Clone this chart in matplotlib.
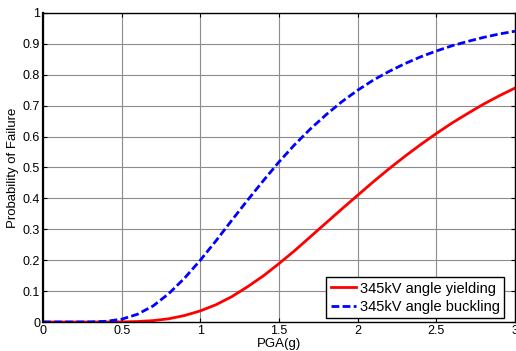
import numpy as np
import matplotlib
matplotlib.use("Agg")
import matplotlib.pyplot as plt
from matplotlib.ticker import FormatStrFormatter

# ---------------------------------------------------------------------------
# Data
# ---------------------------------------------------------------------------

PGA = [0.0, 0.1, 0.2, 0.3, 0.4, 0.5, 0.6, 0.7, 0.8, 0.9, 1.0,
       1.1, 1.2, 1.3, 1.4, 1.5, 1.6, 1.7, 1.8, 1.9, 2.0,
       2.1, 2.2, 2.3, 2.4, 2.5, 2.6, 2.7, 2.8, 2.9, 3.0]

YIELDING = [0.0, 0.0, 0.0, 0.0, 0.0001, 0.0004, 0.0015, 0.0045, 0.0105, 0.021, 0.036,
            0.056, 0.082, 0.114, 0.149, 0.189, 0.231, 0.276, 0.321, 0.366, 0.410,
            0.454, 0.496, 0.536, 0.574, 0.610, 0.644, 0.675, 0.705, 0.732, 0.757]

BUCKLING = [0.0, 0.0, 0.0, 0.0003, 0.0022, 0.009, 0.025, 0.052, 0.092, 0.142, 0.200,
            0.263, 0.329, 0.394, 0.457, 0.518, 0.574, 0.625, 0.671, 0.713, 0.750,
            0.783, 0.811, 0.836, 0.858, 0.877, 0.894, 0.908, 0.921, 0.932, 0.941]

X_TICKS = [0, 0.5, 1, 1.5, 2, 2.5, 3]
Y_TICKS = [0, 0.1, 0.2, 0.3, 0.4, 0.5, 0.6, 0.7, 0.8, 0.9, 1]

LABELS = ["345kV angle yielding", "345kV angle buckling"]

# ---------------------------------------------------------------------------
# Plot
# ---------------------------------------------------------------------------

plt.rcParams["font.family"] = ["Liberation Sans", "DejaVu Sans"]

fig = plt.figure(figsize=(5.16, 3.51), dpi=100)
ax = fig.add_axes([0.0833, 0.0826, 0.9147, 0.8804])

ax.plot(PGA, YIELDING, color="red", linewidth=2, label=LABELS[0])
line, = ax.plot(PGA, BUCKLING, color="blue", linewidth=2, label=LABELS[1])
line.set_dashes([2.8, 1.2])

ax.set_xlim(0, 3)
ax.set_ylim(0, 1)
ax.set_xticks(X_TICKS)
ax.set_yticks(Y_TICKS)
ax.xaxis.set_major_formatter(FormatStrFormatter("%g"))
ax.yaxis.set_major_formatter(FormatStrFormatter("%g"))
ax.tick_params(direction="in", top=True, right=True, labelsize=9, length=3, pad=2)

ax.grid(True, color="#8c8c8c", linewidth=0.8)
ax.set_axisbelow(True)
for s in ax.spines.values():
    s.set_linewidth(1.0)
ax.spines["left"].set_linewidth(1.6)

ax.set_xlabel("PGA(g)", fontsize=9.5, labelpad=1)
ax.set_ylabel("Probability of Failure", fontsize=9.5, labelpad=3)

leg = ax.legend(loc="lower right", bbox_to_anchor=(0.977, 0.012), fontsize=10.5,
                fancybox=False, framealpha=1, edgecolor="black", borderpad=0.3,
                labelspacing=0.3, handlelength=1.75, handletextpad=0.25,
                borderaxespad=0.0)
leg.get_frame().set_linewidth(1.0)

plt.savefig("out.png", dpi=100)
